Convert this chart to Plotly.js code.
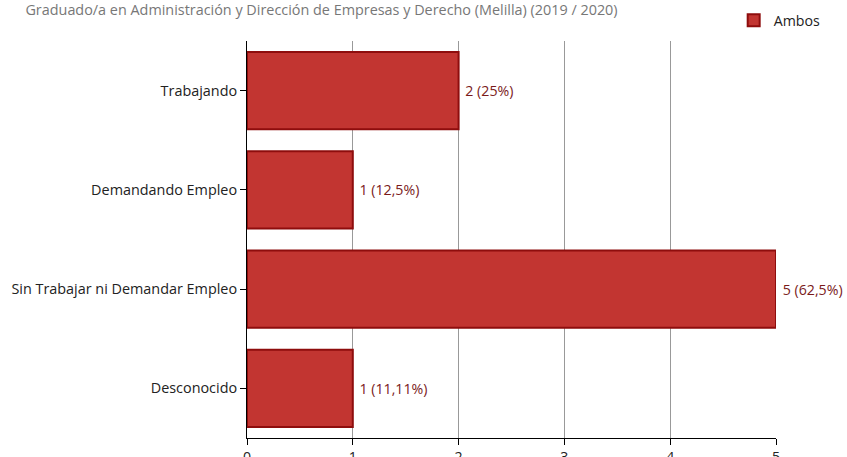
<!DOCTYPE html>
<html><head><meta charset="utf-8">
<script src="https://cdn.plot.ly/plotly-3.0.1.min.js"></script>
<style>body{margin:0;padding:0;background:#fff}#c{width:847px;height:457px}</style>
</head><body><div id="c"></div>
<script>
const categories = ["Trabajando", "Demandando Empleo", "Sin Trabajar ni Demandar Empleo", "Desconocido"];
const values = [2, 1, 5, 1];
const labels = ["2 (25%)", "1 (12,5%)", "5 (62,5%)", "1 (11,11%)"];
const seriesName = "Ambos";
const titleText = "Graduado/a en Administración y Dirección de Empresas y Derecho (Melilla) (2019 / 2020)";
const font = "'Open Sans', 'Noto Sans', sans-serif";

Plotly.newPlot('c', [{
  type: 'bar', orientation: 'h', name: seriesName,
  y: categories, x: values, text: labels,
  texttemplate: '\u00a0%{text}',
  textposition: 'outside', cliponaxis: false,
  textfont: {color: '#7a1a1a', size: 14.2, family: font},
  marker: {color: '#c23531', line: {color: '#8e0d0d', width: 2}},
  hoverinfo: 'none'
}], {
  width: 847, height: 457,
  margin: {l: 247, r: 71, t: 41, b: 19, pad: 0},
  paper_bgcolor: '#fff', plot_bgcolor: '#fff',
  bargap: 0.22,
  showlegend: true,
  legend: {x: 0.92, xanchor: 'left', y: 0.99, yref: 'container', yanchor: 'top', orientation: 'h',
           font: {size: 14.2, color: '#222', family: font}},
  title: {text: titleText, x: 0.03, xanchor: 'left', y: 0.978, yanchor: 'middle', yref: 'container',
          font: {size: 14.4, color: '#777', family: font}},
  xaxis: {range: [0, 5], dtick: 1, showgrid: true, gridcolor: '#999', gridwidth: 1,
          showline: true, linecolor: '#000', linewidth: 1, ticks: 'outside', ticklen: 6, tickcolor: '#000',
          zeroline: false, tickfont: {size: 14.2, color: '#222', family: font}, fixedrange: true},
  yaxis: {autorange: 'reversed', showline: true, linecolor: '#000', linewidth: 1,
          ticks: 'outside', ticklen: 6, tickcolor: '#000',
          tickfont: {size: 14.4, color: '#222', family: font}, fixedrange: true}
}, {displayModeBar: false, staticPlot: true});
</script></body></html>
